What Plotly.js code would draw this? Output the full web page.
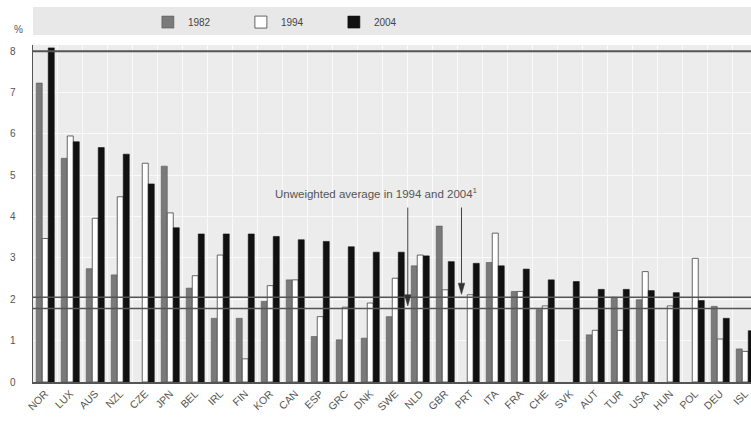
<!DOCTYPE html>
<html>
<head>
<meta charset="utf-8">
<script src="https://cdn.plot.ly/plotly-3.0.1.min.js"></script>
<style>html,body{margin:0;padding:0;background:#fff;}#chart{width:751px;height:425px;}</style>
</head>
<body>
<div id="chart"></div>
<script>
var countries = ["NOR","LUX","AUS","NZL","CZE","JPN","BEL","IRL","FIN","KOR","CAN","ESP","GRC","DNK","SWE","NLD","GBR","PRT","ITA","FRA","CHE","SVK","AUT","TUR","USA","HUN","POL","DEU","ISL"];
var v1982 = [7.23,5.41,2.74,2.59,null,5.22,2.27,1.54,1.54,1.95,2.47,1.10,1.02,1.06,1.58,2.81,3.77,null,2.89,2.19,1.75,null,1.14,2.05,1.99,null,null,1.83,0.80];
var v1994 = [3.47,5.95,3.96,4.48,5.29,4.09,2.57,3.07,0.56,2.33,2.47,1.58,1.81,1.91,2.51,3.07,2.23,2.11,3.60,2.19,1.84,null,1.25,1.25,2.67,1.84,2.99,1.04,0.74];
var v2004 = [8.08,5.81,5.67,5.51,4.79,3.73,3.58,3.58,3.58,3.52,3.44,3.40,3.27,3.14,3.14,3.05,2.91,2.87,2.81,2.73,2.47,2.43,2.24,2.24,2.21,2.16,1.97,1.54,1.24];
var seriesNames = ["1982","1994","2004"];
var averageLines = [2.05, 1.78];
var yTicks = [0,1,2,3,4,5,6,7,8];
var annotationText = "Unweighted average in 1994 and 2004<sup>1</sup>";

var F = "'Liberation Sans Narrow','Arial Narrow','Liberation Sans',Arial,sans-serif";

var traces = [
  {type:'bar', name:seriesNames[0], x:countries, y:v1982, marker:{color:'#7a7a7a', line:{color:'#555', width:0.6}}},
  {type:'bar', name:seriesNames[1], x:countries, y:v1994, marker:{color:'#ffffff', line:{color:'#555', width:0.9}}},
  {type:'bar', name:seriesNames[2], x:countries, y:v2004, marker:{color:'#111111', line:{color:'#111', width:0.6}}}
];

var shapes = [
  {type:'rect', xref:'paper', yref:'paper', x0:0, x1:1, y0:1.030, y1:1.113, fillcolor:'#e8e8e8', line:{width:0}, layer:'below'},
  {type:'line', xref:'paper', yref:'y', x0:0, x1:1, y0:8, y1:8, line:{color:'#555', width:2}}
];
averageLines.forEach(function(v){
  shapes.push({type:'line', xref:'paper', yref:'y', x0:0, x1:1, y0:v, y1:v, line:{color:'#555', width:1.5}});
});
// pointer arrows of the annotation (shaft + head)
var arrowDefs = [{x:14.5, tip:1.84, top:4.22}, {x:16.65, tip:2.12, top:4.22}];
arrowDefs.forEach(function(a){
  shapes.push({type:'line', xref:'x', yref:'y', x0:a.x, x1:a.x, y0:a.top, y1:a.tip+0.2, line:{color:'#444', width:1}});
  shapes.push({type:'path', xref:'x', yref:'y', path:'M '+(a.x-0.13)+','+(a.tip+0.27)+' L '+(a.x+0.13)+','+(a.tip+0.27)+' L '+a.x+','+a.tip+' Z', fillcolor:'#333', line:{color:'#333', width:0.5}});
});

var layout = {
  width:751, height:425,
  margin:{l:33, r:0, t:45, b:43},
  paper_bgcolor:'#ffffff',
  plot_bgcolor:'#ececec',
  barmode:'group',
  bargap:0.28,
  bargroupgap:0,
  showlegend:true,
  legend:{orientation:'h', x:0.16, xanchor:'left', y:1.068, yanchor:'middle', bgcolor:'rgba(0,0,0,0)', font:{family:F, size:10, color:'#444'}, entrywidth:48, traceorder:'normal'},
  font:{family:F, size:10, color:'#555'},
  xaxis:{type:'category', range:[-0.49, 28.23], tickangle:-45, showgrid:true, gridcolor:'#fafafa', gridwidth:1, tickson:'boundaries', ticks:'', showline:true, linecolor:'#555', linewidth:1.5, tickfont:{family:F, size:10.5, color:'#555'}, fixedrange:true},
  yaxis:{range:[0, 8.15], tickvals:yTicks, showgrid:true, gridcolor:'#fafafa', gridwidth:1, zeroline:false, showline:true, linecolor:'#555', linewidth:1.5, ticks:'outside', ticklen:14, tickcolor:'rgba(0,0,0,0)', tickfont:{family:F, size:10, color:'#555'}, fixedrange:true},
  shapes:shapes,
  annotations:[
    {xref:'paper', yref:'paper', x:-0.029, y:1.068, text:'%', showarrow:false, font:{family:F, size:10, color:'#555'}},
    {xref:'x', yref:'y', x:13.25, y:4.58, text:annotationText, showarrow:false, font:{family:F, size:11.5, color:'#555'}}
  ]
};

Plotly.newPlot('chart', traces, layout, {displayModeBar:false, staticPlot:true});
</script>
</body>
</html>
